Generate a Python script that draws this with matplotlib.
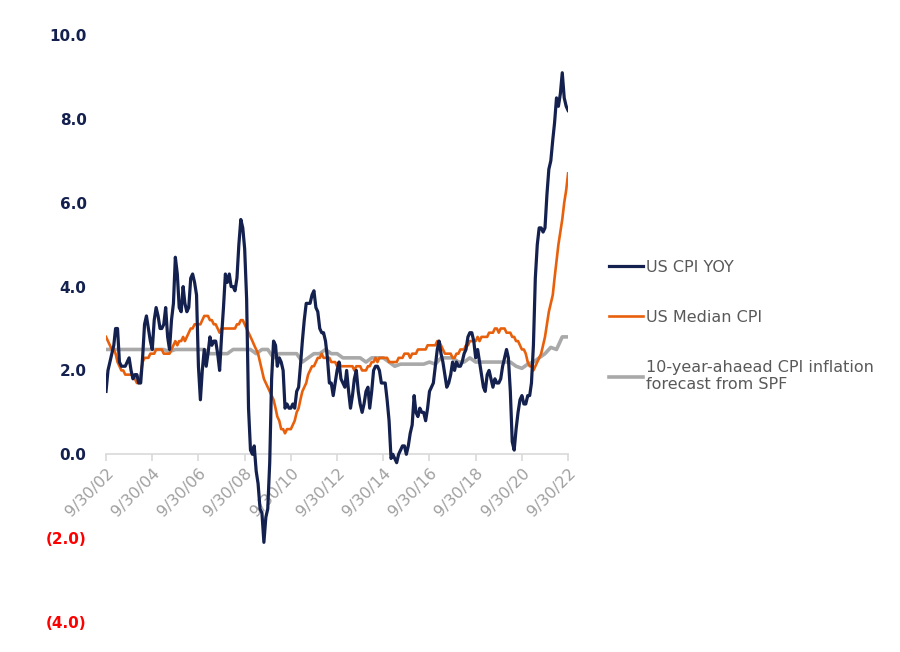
import numpy as np
import pandas as pd
import matplotlib
matplotlib.use("Agg")
import matplotlib.pyplot as plt

plt.rcParams["font.family"] = ["DejaVu Sans"]

# monthly, Sep 2002 .. Sep 2022
cpi_yoy = [
    1.5, 2.0, 2.2, 2.4,
    2.6, 3.0, 3.0, 2.2, 2.1, 2.1, 2.1, 2.2, 2.3, 2.0, 1.8, 1.9,
    1.9, 1.7, 1.7, 2.3, 3.1, 3.3, 3.0, 2.7, 2.5, 3.2, 3.5, 3.3,
    3.0, 3.0, 3.1, 3.5, 2.8, 2.5, 3.2, 3.6, 4.7, 4.3, 3.5, 3.4,
    4.0, 3.6, 3.4, 3.5, 4.2, 4.3, 4.1, 3.8, 2.1, 1.3, 2.0, 2.5,
    2.1, 2.4, 2.8, 2.6, 2.7, 2.7, 2.4, 2.0, 2.8, 3.5, 4.3, 4.1,
    4.3, 4.0, 4.0, 3.9, 4.2, 5.0, 5.6, 5.4, 4.9, 3.7, 1.1, 0.1,
    0.0, 0.2, -0.4, -0.7, -1.3, -1.4, -2.1, -1.5, -1.3, -0.2, 1.8, 2.7,
    2.6, 2.1, 2.3, 2.2, 2.0, 1.1, 1.2, 1.1, 1.1, 1.2, 1.1, 1.5,
    1.6, 2.1, 2.7, 3.2, 3.6, 3.6, 3.6, 3.8, 3.9, 3.5, 3.4, 3.0,
    2.9, 2.9, 2.7, 2.3, 1.7, 1.7, 1.4, 1.7, 2.0, 2.2, 1.8, 1.7,
    1.6, 2.0, 1.5, 1.1, 1.4, 1.8, 2.0, 1.5, 1.2, 1.0, 1.2, 1.5,
    1.6, 1.1, 1.5, 2.0, 2.1, 2.1, 2.0, 1.7, 1.7, 1.7, 1.3, 0.8,
    -0.1, 0.0, -0.1, -0.2, 0.0, 0.1, 0.2, 0.2, 0.0, 0.2, 0.5, 0.7,
    1.4, 1.0, 0.9, 1.1, 1.0, 1.0, 0.8, 1.1, 1.5, 1.6, 1.7, 2.1,
    2.5, 2.7, 2.4, 2.2, 1.9, 1.6, 1.7, 1.9, 2.2, 2.0, 2.2, 2.1,
    2.1, 2.2, 2.4, 2.5, 2.8, 2.9, 2.9, 2.7, 2.3, 2.5, 2.2, 1.9,
    1.6, 1.5, 1.9, 2.0, 1.8, 1.6, 1.8, 1.7, 1.7, 1.8, 2.1, 2.3,
    2.5, 2.3, 1.5, 0.3, 0.1, 0.6, 1.0, 1.3, 1.4, 1.2, 1.2, 1.4,
    1.4, 1.7, 2.6, 4.2, 5.0, 5.4, 5.4, 5.3, 5.4, 6.2, 6.8, 7.0,
    7.5, 7.9, 8.5, 8.3, 8.6, 9.1, 8.5, 8.3, 8.2,
]

median_cpi = [
    2.8, 2.7, 2.6, 2.5,
    2.5, 2.4, 2.2, 2.1, 2.0, 2.0, 1.9, 1.9, 1.9, 1.9, 1.9, 1.8,
    1.7, 1.7, 1.9, 2.2, 2.3, 2.3, 2.3, 2.4, 2.4, 2.4, 2.5, 2.5,
    2.5, 2.5, 2.4, 2.4, 2.4, 2.4, 2.5, 2.6, 2.7, 2.6, 2.7, 2.7,
    2.8, 2.7, 2.8, 2.9, 3.0, 3.0, 3.1, 3.1, 3.1, 3.1, 3.2, 3.3,
    3.3, 3.3, 3.2, 3.2, 3.1, 3.1, 3.0, 2.9, 3.0, 3.0, 3.0, 3.0,
    3.0, 3.0, 3.0, 3.0, 3.1, 3.1, 3.2, 3.2, 3.1, 3.0, 2.9, 2.8,
    2.7, 2.6, 2.5, 2.4, 2.2, 2.0, 1.8, 1.7, 1.6, 1.5, 1.4, 1.3,
    1.1, 0.9, 0.8, 0.6, 0.6, 0.5, 0.6, 0.6, 0.6, 0.7, 0.8, 1.0,
    1.1, 1.3, 1.5, 1.6, 1.7, 1.9, 2.0, 2.1, 2.1, 2.2, 2.3, 2.3,
    2.4, 2.3, 2.3, 2.3, 2.3, 2.2, 2.2, 2.2, 2.1, 2.2, 2.1, 2.1,
    2.1, 2.1, 2.1, 2.1, 2.1, 2.0, 2.1, 2.1, 2.1, 2.0, 2.0, 2.0,
    2.1, 2.1, 2.2, 2.2, 2.3, 2.2, 2.3, 2.3, 2.3, 2.3, 2.3, 2.2,
    2.2, 2.2, 2.2, 2.2, 2.3, 2.3, 2.3, 2.4, 2.4, 2.4, 2.3, 2.4,
    2.4, 2.4, 2.5, 2.5, 2.5, 2.5, 2.5, 2.6, 2.6, 2.6, 2.6, 2.6,
    2.7, 2.7, 2.6, 2.5, 2.4, 2.4, 2.4, 2.4, 2.3, 2.3, 2.4, 2.4,
    2.5, 2.5, 2.5, 2.6, 2.6, 2.7, 2.7, 2.7, 2.7, 2.8, 2.7, 2.8,
    2.8, 2.8, 2.8, 2.9, 2.9, 2.9, 3.0, 3.0, 2.9, 3.0, 3.0, 3.0,
    2.9, 2.9, 2.9, 2.8, 2.8, 2.7, 2.7, 2.6, 2.5, 2.5, 2.4, 2.2,
    2.1, 2.1, 2.0, 2.1, 2.2, 2.3, 2.4, 2.6, 2.8, 3.1, 3.4, 3.6,
    3.8, 4.2, 4.6, 5.0, 5.3, 5.6, 6.0, 6.3, 6.7,
]

# quarterly, Q3 2002 .. Q3 2022
spf_10y = [
    2.5, 2.5,
    2.5, 2.5, 2.5, 2.5,
    2.5, 2.5, 2.5, 2.5,
    2.5, 2.45, 2.5, 2.5,
    2.5, 2.5, 2.5, 2.5,
    2.4, 2.4, 2.4, 2.4,
    2.5, 2.5, 2.5, 2.5,
    2.4, 2.5, 2.5, 2.3,
    2.4, 2.4, 2.4, 2.4,
    2.2, 2.3, 2.4, 2.4,
    2.5, 2.4, 2.4, 2.3,
    2.3, 2.3, 2.3, 2.2,
    2.3, 2.3, 2.3, 2.2,
    2.1, 2.15, 2.15, 2.15,
    2.15, 2.15, 2.2, 2.15,
    2.3, 2.3, 2.3, 2.2,
    2.2, 2.3, 2.2, 2.2,
    2.2, 2.2, 2.2, 2.2,
    2.2, 2.1, 2.05, 2.15,
    2.2, 2.3, 2.4, 2.55,
    2.5, 2.8, 2.8,
]

months = pd.date_range("2002-09-30", "2022-09-30", freq="ME")
quarters = pd.date_range("2002-09-30", "2022-09-30", freq="QE")
tick_dates = [pd.Timestamp(f"{y}-09-30") for y in range(2002, 2023, 2)]
tick_labels = [f"{d.month}/{d.day}/{d:%y}" for d in tick_dates]
y_ticks = [-4, -2, 0, 2, 4, 6, 8, 10]

NAVY = "#14214f"
ORANGE = "#e8600c"
GREY = "#a9a9a9"

fig = plt.figure(figsize=(9, 6.52), dpi=100)
ax = fig.add_axes([0.1178, 0.046, 0.5134, 0.9003])

ax.plot(months, cpi_yoy, color=NAVY, linewidth=2.3, label="US CPI YOY", zorder=3)
ax.plot(months, median_cpi, color=ORANGE, linewidth=1.9, label="US Median CPI", zorder=2)
ax.plot(quarters, spf_10y, color=GREY, linewidth=2.6,
        label="10-year-ahaead CPI inflation\nforecast from SPF", zorder=1)

ax.set_xlim(months[0], months[-1])
ax.set_ylim(-4, 10)

for side in ["top", "right", "left"]:
    ax.spines[side].set_visible(False)
ax.spines["bottom"].set_position(("data", 0))
ax.spines["bottom"].set_color("#d9d9d9")
ax.spines["bottom"].set_linewidth(1.2)

ax.set_xticks(tick_dates)
ax.set_xticklabels(tick_labels, rotation=45, ha="right", rotation_mode="anchor",
                   color="#a0a0a0", fontsize=11.5)
ax.tick_params(axis="x", length=5, color="#d9d9d9", width=1.2, pad=3)

ax.set_yticks(y_ticks)
ax.set_yticklabels([f"({abs(v):.1f})" if v < 0 else f"{v:.1f}" for v in y_ticks],
                   fontsize=11, fontweight="bold")
for lab, v in zip(ax.get_yticklabels(), y_ticks):
    lab.set_color("#ff0000" if v < 0 else NAVY)
ax.tick_params(axis="y", length=0, pad=14)

fig.legend(loc="center left", bbox_to_anchor=(0.677, 0.5), frameon=False,
           fontsize=11.5, labelcolor="#595959", handlelength=2.1,
           handletextpad=0.2, labelspacing=2.2, borderpad=0, borderaxespad=0)

fig.savefig("out.png", dpi=100)
